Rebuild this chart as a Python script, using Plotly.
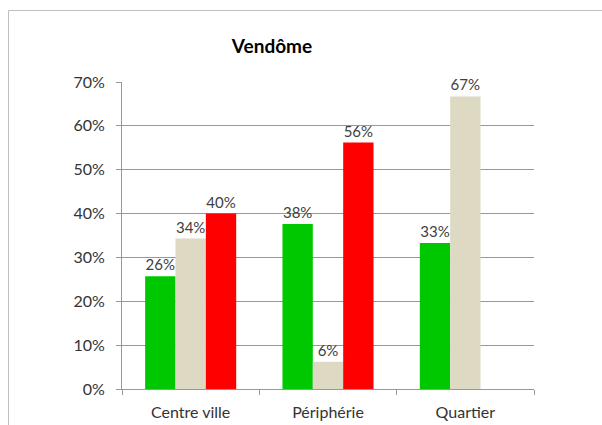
import plotly.graph_objects as go

categories = ["Centre ville", "Périphérie", "Quartier"]
serie_verte = [0.257, 0.376, 0.333]
serie_beige = [0.343, 0.062, 0.667]
serie_rouge = [0.400, 0.562, None]
y_ticks = [0, 0.1, 0.2, 0.3, 0.4, 0.5, 0.6, 0.7]

W, H = 602, 425
L, R, T, B = 122, 534, 82, 389

FONT = "Lato, 'Open Sans', sans-serif"

fig = go.Figure()
for vals, col in [(serie_verte, "#00C800"), (serie_beige, "#DDD9C3"), (serie_rouge, "#FF0000")]:
    fig.add_trace(go.Bar(
        x=categories, y=vals, marker=dict(color=col, line=dict(width=0)),
        texttemplate="%{y:.0%}", textposition="outside", cliponaxis=False,
        textfont=dict(family=FONT, size=15, color="#404040"),
    ))

def px_x(p):
    return (p - L) / (R - L)

def px_y(p):
    return (B - p) / (B - T)

fig.update_layout(
    width=W, height=H,
    margin=dict(l=L, r=W - R, t=T, b=H - B, autoexpand=False),
    paper_bgcolor="white", plot_bgcolor="white",
    barmode="group", bargap=0.337, bargroupgap=0,
    showlegend=False,
    title=dict(text="<b>Vendôme</b>", x=272 / W, xanchor="center",
               y=1 - 46 / H, yanchor="middle",
               font=dict(family=FONT, size=19, color="#000000")),
    xaxis=dict(showline=True, linecolor="#989898", linewidth=1, automargin=False,
               ticks="outside", tickson="boundaries", ticklen=5, tickcolor="#989898",
               tickfont=dict(family=FONT, size=16, color="#333333"),
               ticklabelstandoff=9, showgrid=False),
    yaxis=dict(range=[0, 0.7], tickvals=y_ticks, tickformat=".0%", automargin=False,
               showline=True, linecolor="#989898", linewidth=1,
               ticks="outside", ticklen=5, tickcolor="#989898",
               gridcolor="#989898", gridwidth=1, zeroline=False,
               tickfont=dict(family=FONT, size=16, color="#333333"),
               ticklabelstandoff=8),
    shapes=[
        dict(type="line", xref="paper", yref="paper",
             x0=px_x(8.5), x1=px_x(8.5), y0=px_y(430), y1=px_y(10.5),
             line=dict(color="#BFBFBF", width=1)),
        dict(type="line", xref="paper", yref="paper",
             x0=px_x(8.5), x1=px_x(610), y0=px_y(10.5), y1=px_y(10.5),
             line=dict(color="#BFBFBF", width=1)),
    ],
)

fig.write_html("out.html", config={"displayModeBar": False},
               post_script="document.body.style.margin='0';document.body.style.padding='0';")
